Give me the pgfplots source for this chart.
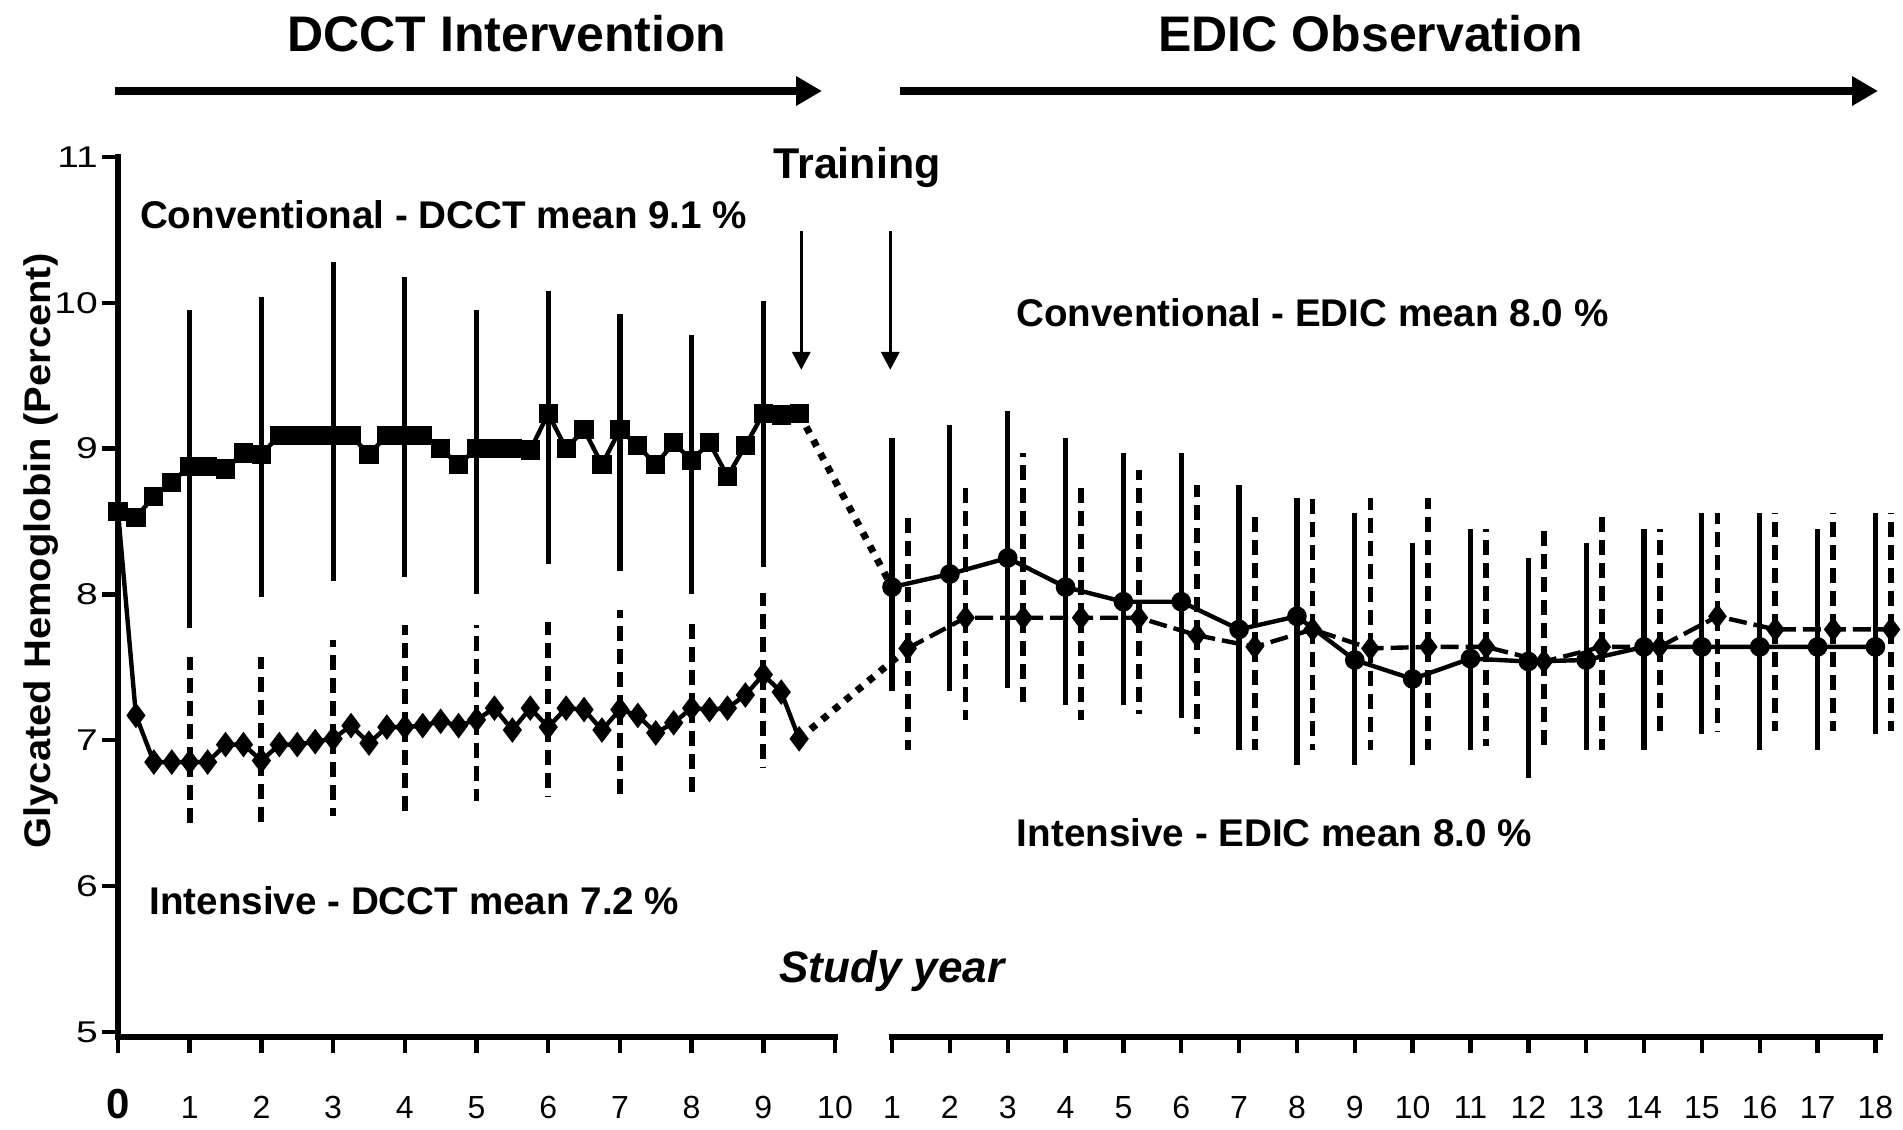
\documentclass[border=0pt]{standalone}
\usepackage{fontspec}
\setmainfont{Liberation Sans}
\usepackage{pgfplots}
\usepackage{pgfplotstable}
\pgfplotsset{compat=1.18}
\usetikzlibrary{arrows.meta}

\pgfplotstableread{
x y
0 8.57
0.25 8.53
0.5 8.67
0.75 8.77
1 8.88
1.25 8.88
1.5 8.86
1.75 8.97
2 8.96
2.25 9.09
2.5 9.09
2.75 9.09
3 9.09
3.25 9.09
3.5 8.96
3.75 9.09
4 9.09
4.25 9.09
4.5 9.00
4.75 8.89
5 9.00
5.25 9.00
5.5 9.00
5.75 8.99
6 9.24
6.25 9.00
6.5 9.13
6.75 8.89
7 9.13
7.25 9.02
7.5 8.89
7.75 9.04
8 8.92
8.25 9.04
8.5 8.81
8.75 9.02
9 9.24
9.25 9.23
9.5 9.24
}\convdcct

\pgfplotstableread{
x y
0 8.57
0.25 7.17
0.5 6.85
0.75 6.85
1 6.85
1.25 6.85
1.5 6.97
1.75 6.97
2 6.86
2.25 6.97
2.5 6.97
2.75 6.99
3 7.01
3.25 7.10
3.5 6.98
3.75 7.09
4 7.09
4.25 7.10
4.5 7.13
4.75 7.10
5 7.14
5.25 7.22
5.5 7.07
5.75 7.22
6 7.09
6.25 7.22
6.5 7.21
6.75 7.07
7 7.21
7.25 7.17
7.5 7.05
7.75 7.12
8 7.22
8.25 7.21
8.5 7.22
8.75 7.31
9 7.45
9.25 7.33
9.5 7.01
}\intdcct

\pgfplotstableread{
x y lo hi
1 8.88 7.77 9.95
2 8.96 7.98 10.04
3 9.09 8.09 10.28
4 9.09 8.12 10.18
5 9.00 8.00 9.95
6 9.24 8.21 10.08
7 9.13 8.16 9.92
8 8.92 8.00 9.78
9 9.24 8.19 10.01
}\convdcctbar

\pgfplotstableread{
x y lo hi
1 6.85 6.43 7.57
2 6.86 6.43 7.57
3 7.01 6.48 7.69
4 7.09 6.49 7.79
5 7.14 6.58 7.79
6 7.09 6.61 7.81
7 7.21 6.62 7.89
8 7.22 6.62 7.81
9 7.45 6.81 8.01
}\intdcctbar

\pgfplotstableread{
x y lo hi
1 8.05 7.34 9.07
2 8.14 7.34 9.16
3 8.25 7.36 9.26
4 8.05 7.24 9.07
5 7.95 7.24 8.97
6 7.95 7.15 8.97
7 7.76 6.93 8.75
8 7.85 6.83 8.66
9 7.55 6.83 8.56
10 7.42 6.83 8.35
11 7.56 6.93 8.45
12 7.54 6.74 8.25
13 7.55 6.93 8.35
14 7.64 6.93 8.45
15 7.64 7.04 8.56
16 7.64 6.93 8.56
17 7.64 6.93 8.45
18 7.64 7.04 8.56
}\convedic

\pgfplotstableread{
x y lo hi
1.27 7.63 6.93 8.56
2.27 7.84 7.14 8.75
3.27 7.84 7.24 8.97
4.27 7.84 7.14 8.75
5.27 7.84 7.18 8.85
6.27 7.72 7.04 8.75
7.27 7.64 6.93 8.56
8.27 7.76 6.93 8.66
9.27 7.63 6.93 8.66
10.27 7.64 6.93 8.66
11.27 7.64 6.96 8.45
12.27 7.54 6.96 8.45
13.27 7.64 6.93 8.56
14.27 7.64 7.04 8.45
15.27 7.85 7.06 8.56
16.27 7.76 7.06 8.56
17.27 7.76 7.06 8.56
18.27 7.76 7.06 8.56
}\intedic

\pgfplotsset{
  base/.style={
    scale only axis, height=220pt, ymin=4.9644, ymax=11, clip=false,
    anchor=south west,
    /pgf/number format/assume math mode=true,
    axis line style={line width=1.7pt, line cap=rect},
    every tick/.style={line width=1.1pt, black},
    tick align=outside, major tick length=4pt,
    xticklabel style={font=\fontsize{8}{9}\selectfont, anchor=base, yshift=-16.25pt},
  },
  solidbar/.style={draw=none, mark=none, forget plot,
    error bars/.cd, y dir=both, y explicit, error mark=none,
    error bar style={draw=black, solid, line width=1.3pt}},
  dashbar/.style={draw=none, mark=none, forget plot,
    error bars/.cd, y dir=both, y explicit, error mark=none,
    error bar style={draw=black, line width=1.45pt, dash pattern=on 3.75pt off 2pt}},
}

\begin{document}
\begin{tikzpicture}
\useasboundingbox (0,0) rectangle (475.75pt,282.25pt);

% Left axis: DCCT
\begin{axis}[base, at={(29.5pt,23pt)}, width=179.25pt,
  axis lines*=left, xmin=0, xmax=10,
  xtick={0,...,10},
  xticklabels={{\bfseries\fontsize{10.5}{12}\selectfont 0},1,2,3,4,5,6,7,8,9,10},
  ytick={5,...,11},
  yticklabel={\scalebox{1.3}[1]{\pgfmathprintnumber{\tick}}},
  yticklabel style={font=\fontsize{7.5}{8.5}\selectfont, xshift=2.5pt},
]
\addplot[dashbar] table[x=x, y=y, y error plus expr=\thisrow{hi}-\thisrow{y}, y error minus expr=\thisrow{y}-\thisrow{lo}] {\intdcctbar};
\addplot[solidbar] table[x=x, y=y, y error plus expr=\thisrow{hi}-\thisrow{y}, y error minus expr=\thisrow{y}-\thisrow{lo}] {\convdcctbar};
\addplot[black, line width=1.1pt, mark=diamond*, mark size=2.3pt] table[x=x,y=y] {\intdcct};
\addplot[black, line width=1.1pt, mark=square*, mark size=1.85pt] table[x=x,y=y] {\convdcct};
\draw[line width=0.85pt, -{Triangle[width=4.5pt,length=4.5pt]}] (axis cs:9.53,10.49) -- (axis cs:9.53,9.54);
\end{axis}

% Right axis: EDIC
\begin{axis}[base, at={(223pt,23pt)}, width=247pt,
  axis x line*=bottom, axis y line=none, xmin=1, xmax=18.08,
  xtick={1,...,18},
]
\addplot[solidbar] table[x=x, y=y, y error plus expr=\thisrow{hi}-\thisrow{y}, y error minus expr=\thisrow{y}-\thisrow{lo}] {\convedic};
\addplot[dashbar] table[x=x, y=y, y error plus expr=\thisrow{hi}-\thisrow{y}, y error minus expr=\thisrow{y}-\thisrow{lo}] {\intedic};
\addplot[black, line width=1.75pt, dash pattern=on 1.75pt off 2pt] coordinates {(-0.605,9.24) (1,8.05)};
\addplot[black, line width=1.75pt, dash pattern=on 1.75pt off 2pt] coordinates {(-0.605,7.01) (1.27,7.63)};
\addplot[black, line width=1.1pt, dash pattern=on 4.5pt off 1.75pt, mark=diamond*, mark size=2.2pt, mark options={solid}] table[x=x,y=y] {\intedic};
\addplot[black, line width=1.1pt, mark=*, mark size=1.9pt] table[x=x,y=y] {\convedic};
\draw[line width=0.85pt, -{Triangle[width=4.5pt,length=4.5pt]}] (axis cs:0.97,10.49) -- (axis cs:0.97,9.54);
\end{axis}

% Header
\node[font=\bfseries\fontsize{12.5}{14}\selectfont] at (126.75pt,273.75pt) {DCCT Intervention};
\node[font=\bfseries\fontsize{12.5}{14}\selectfont] at (342.75pt,273.75pt) {EDIC Observation};
\draw[line width=1.8pt, -{Triangle[width=7pt,length=6.5pt]}] (28.75pt,259.5pt) -- (205.5pt,259.5pt);
\draw[line width=1.8pt, -{Triangle[width=7pt,length=6.5pt]}] (225pt,259.5pt) -- (469.5pt,259.5pt);

% Annotations
\node[font=\bfseries\fontsize{9.65}{11}\selectfont] at (110.9pt,228.5pt) {Conventional - DCCT mean 9.1 \%};
\node[font=\bfseries\fontsize{10.75}{12}\selectfont] at (214.25pt,240.5pt) {Training};
\node[font=\bfseries\fontsize{9.65}{11}\selectfont] at (328.1pt,204pt) {Conventional - EDIC mean 8.0 \%};
\node[font=\bfseries\fontsize{9.65}{11}\selectfont] at (318.6pt,74pt) {Intensive - EDIC mean 8.0 \%};
\node[font=\bfseries\fontsize{9.65}{11}\selectfont] at (103.6pt,57pt) {Intensive - DCCT mean 7.2 \%};
\node[font=\bfseries\itshape\fontsize{11}{13}\selectfont] at (223pt,39.5pt) {Study year};
\node[font=\bfseries\fontsize{9.25}{11}\selectfont, rotate=90] at (10.25pt,144.5pt) {\scalebox{1.08}[1]{Glycated Hemoglobin (Percent)}};
\end{tikzpicture}
\end{document}
